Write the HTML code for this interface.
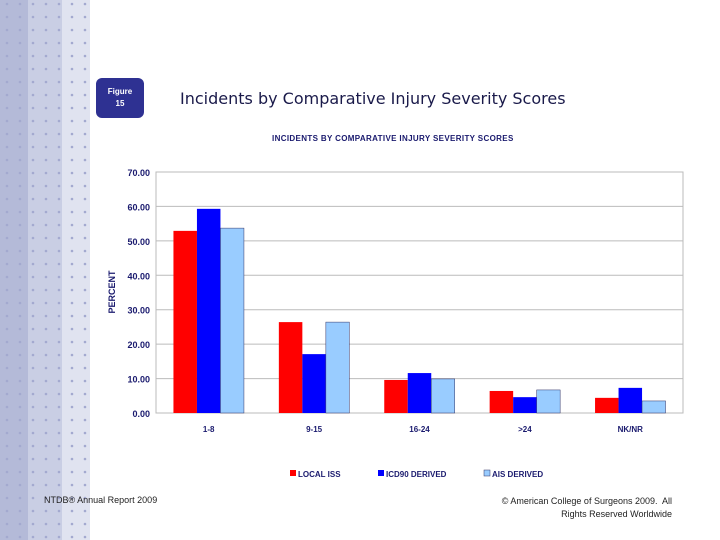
<!DOCTYPE html>
<html><head><meta charset="utf-8"><style>
body{margin:0;width:720px;height:540px;background:#fff;position:relative;overflow:hidden;font-family:"Liberation Sans",sans-serif}
.strip{position:absolute;top:0;height:540px}
.t{position:absolute;white-space:nowrap}
</style></head><body>
<div class="strip" style="left:0;width:28px;background:#b4bad8"></div>
<div class="strip" style="left:28px;width:34px;background:#c9cee4"></div>
<div class="strip" style="left:62px;width:28px;background:#e0e3f0"></div>
<svg id="dots" width="90" height="540" style="position:absolute;left:0;top:0"></svg>
<div class="t" style="left:96px;top:78px;width:48px;height:40px;background:#2e3192;border-radius:6px;color:#fff;font-size:8px;font-weight:bold;text-align:center;line-height:12px;padding-top:8px;box-sizing:border-box">Figure<br>15</div>
<div class="t" style="left:180px;top:89px;font-size:16px;color:#1a1a4a;font-family:'DejaVu Sans',sans-serif">Incidents by Comparative Injury Severity Scores</div>
<div class="t" style="left:272px;top:134px;font-size:8px;font-weight:bold;color:#1a1a6e;letter-spacing:0.35px">INCIDENTS BY COMPARATIVE INJURY SEVERITY SCORES</div>
<svg id="chart" width="720" height="540" style="position:absolute;left:0;top:0"></svg>
<div class="t" style="left:44px;top:495px;font-size:9px;color:#222">NTDB® Annual Report 2009</div>
<div class="t" style="right:48px;top:495px;font-size:9px;color:#222;text-align:right;line-height:13px">© American College of Surgeons 2009.&nbsp; All<br>Rights Reserved Worldwide</div>
<script>
const categories=["1-8","9-15","16-24",">24","NK/NR"];
const localISS=[52.9,26.4,9.6,6.4,4.4];
const icd90=[59.3,17.1,11.6,4.6,7.3];
const aisDerived=[53.7,26.4,9.9,6.7,3.5];
const yTicks=[0,10,20,30,40,50,60,70];
const seriesNames=["LOCAL ISS","ICD90 DERIVED","AIS DERIVED"];
const NS="http://www.w3.org/2000/svg";
function mk(p,tag,a){const e=document.createElementNS(NS,tag);for(const k in a)e.setAttribute(k,a[k]);p.appendChild(e);return e;}
const d=document.getElementById('dots');
for(let x=7;x<90;x+=13)for(let y=4;y<540;y+=13){mk(d,'circle',{cx:x,cy:y,r:1.3,fill:'#a3a9cf'});}
const s=document.getElementById('chart');
const L=156,R=683,T=172,B=413,ymax=70;
const y=v=>B-(v/ymax)*(B-T);
const gw=(R-L)/categories.length,bw=23.5;
const x=i=>L+gw*i+gw/2;
yTicks.forEach(t=>{
  const g=mk(s,'line',{x1:L,x2:R,y1:y(t),y2:y(t),stroke:'#bbb','stroke-width':1});
  
  
  const tx=mk(s,'text',{x:150,y:y(t)+4,'text-anchor':'end','font-size':9,'font-weight':'bold',fill:'#1a1a6e','font-family':'Liberation Sans'});
  tx.textContent=t.toFixed(2);
  
  
});
mk(s,'rect',{x:L,y:T,width:R-L,height:B-T,fill:'none',stroke:'#bbb'});
const yt=mk(s,'text',{x:0,y:0,transform:'translate(115,292) rotate(-90)','text-anchor':'middle','font-size':9,'font-weight':'bold',fill:'#1a1a6e','font-family':'Liberation Sans'});
yt.textContent='PERCENT';


const series=[localISS,icd90,aisDerived],cols=['#ff0000','#0000ff','#99ccff'];
categories.forEach((c,i)=>{
  series.forEach((ser,j)=>{
    const bx=x(i)-1.5*bw+j*bw;
    const r=mk(s,'rect',{x:bx,y:y(ser[i]),width:bw,height:B-y(ser[i]),fill:cols[j],stroke:j==2?'#336':'none','stroke-width':0.5});
    
    
  });
  const tx=mk(s,'text',{x:x(i),y:432,'text-anchor':'middle','font-size':8,'font-weight':'bold',fill:'#1a1a6e','font-family':'Liberation Sans'});
  tx.textContent=c;
  
  
});
const lx=[290,378,484];
seriesNames.forEach((n,j)=>{
  mk(s,'rect',{x:lx[j],y:470,width:6,height:6,fill:cols[j],stroke:j==2?'#336':'none','stroke-width':0.5});
  const tx=mk(s,'text',{x:lx[j]+8,y:477,'font-size':8,'font-weight':'bold',fill:'#1a1a6e','font-family':'Liberation Sans'});
  tx.textContent=n;
  
  
});
</script>
</body></html>
